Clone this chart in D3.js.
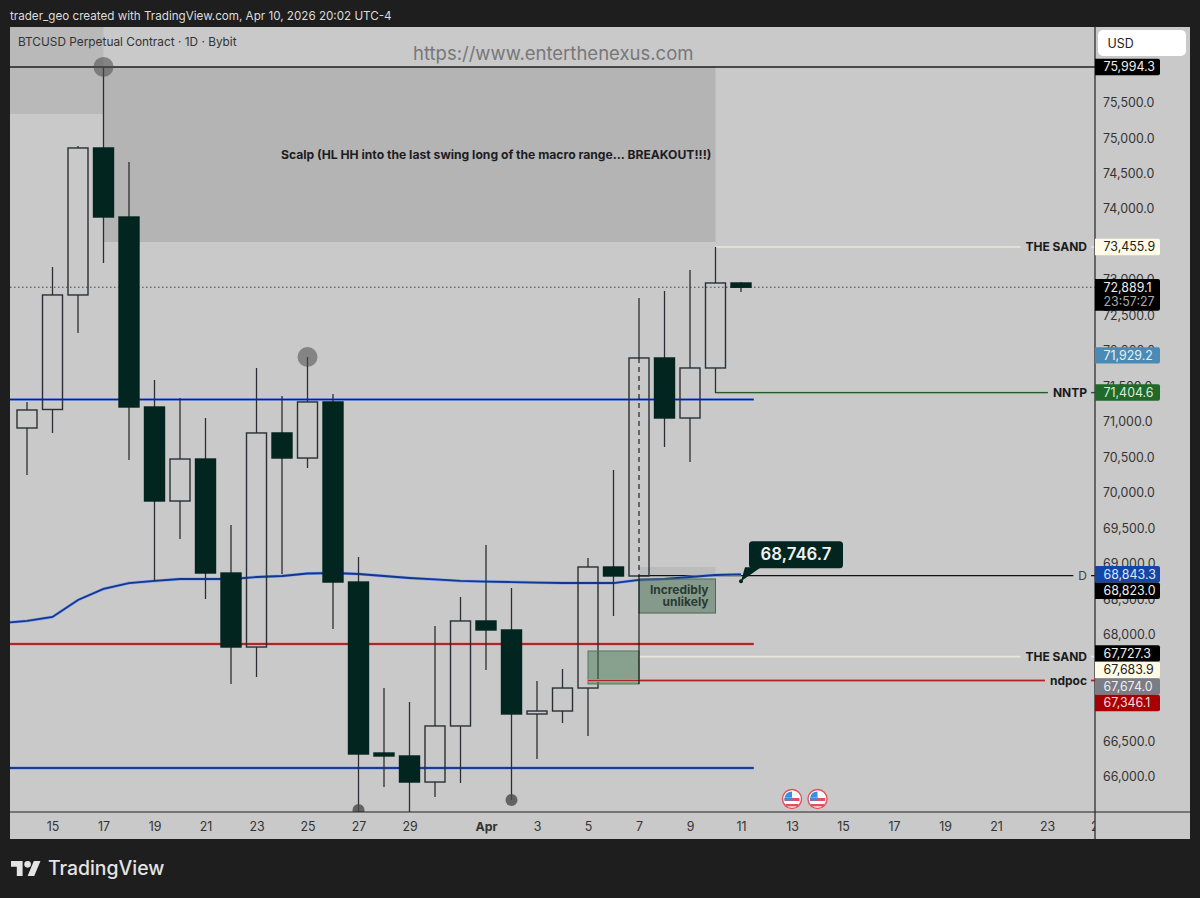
<!DOCTYPE html>
<html><head><meta charset='utf-8'>
<script src='https://d3js.org/d3.v7.min.js'></script>
<style>
html,body{margin:0;padding:0;background:#1e1e1e;}
svg{display:block;}
text{font-family:Inter,'Liberation Sans',sans-serif;}
</style></head><body>
<svg id='chart' width='1200' height='898'></svg>
<script>
// candles
const days=['2026-03-14','2026-03-15','2026-03-16','2026-03-17','2026-03-18','2026-03-19','2026-03-20','2026-03-21','2026-03-22','2026-03-23','2026-03-24','2026-03-25','2026-03-26','2026-03-27','2026-03-28','2026-03-29','2026-03-30','2026-03-31','2026-04-01','2026-04-02','2026-04-03','2026-04-04','2026-04-05','2026-04-06','2026-04-07','2026-04-08','2026-04-09','2026-04-10','2026-04-11'];
const opens=[70905,71166,72780,74852,73879,71201,69876,70468,68861,67818,70835,70482,71272,68734,66324,66282,65915,66705,68185,68058,66874,66916,67240,68946,68819,71892,71046,71751,72949];
const highs=[71272,73174,74880,75994.3,74654,71582,71328,71046,69538,71751,71356,71906,71384,69087,67240,67043,68114,68523,69256,68650,67339,67508,69073,70313,72737,72836,73132,73455.9,72963];
const lows=[70243,70835,72244,73231,70454,68749,69341,68495,67297,67395,68847,70341,68072,65493,65845,65380,65704,65901,67494,65662,66240,66747,66564,68255,68810,70637,70426,71398,72822];
const closes=[71159,72780,74852,73879,71201,69876,70468,68861,67818,70835,70482,71272,68734,66310,66282,65915,66705,68185,68058,66874,66916,67240,68946,68819,71892,71046,71751,72949,72889.1];

// moving average, first point sits left of the pane
const maDays=['2026-03-13'].concat(days);
const maValues=[68157,68185,68241,68481,68636,68720,68749,68777,68777,68777,68805,68819,68854,68861,68847,68819,68791,68770,68749,68741,68734,68727,68720,68720,68720,68763,68777,68805,68833,68843.3];

// 67,000 / 67,500 / 73,500 are fully covered by tags in the reference, so left out
const priceTicks=[66000,66500,68000,68500,69000,69500,70000,70500,71000,71500,72000,72500,73000,74000,74500,75000,75500];
const dateTicks=['2026-03-15','2026-03-17','2026-03-19','2026-03-21','2026-03-23','2026-03-25','2026-03-27','2026-03-29','2026-04-01','2026-04-03','2026-04-05','2026-04-07','2026-04-09','2026-04-11','2026-04-13','2026-04-15','2026-04-17','2026-04-19','2026-04-21','2026-04-23','2026-04-25'];

const tagValues=[75994.3,73455.9,72889.1,71929.2,71404.6,68843.3,68823.0,67727.3,67683.9,67674.0,67346.1];

const blueHigh=71307, redMid=67860, blueLow=66113, topLine=75994.3;
const sandHigh=73455.9, nntp=71404.6, dLevel=68823.0, sandLow=67683.9, ndpoc=67346.1;
const calloutPrice=68746.7;
const markerDays=['2026-03-17','2026-03-25','2026-03-27','2026-04-02'];
const markerPrices=[75994.3,71906,65521,65662];
const flagDays=['2026-04-13','2026-04-14'];

const margin={top:27,right:105,bottom:86,left:10},W=1200,H=898;
const paneR=W-margin.right, paneB=H-margin.bottom, axisB=839, outerR=1190;
const BG='#c9c9c9', DARK='#02261f', INK='#2b2f33';

const date=s=>new Date(s.length>10?s:s+'T00:00:00Z');
const x=d3.scaleUtc().domain([date('2026-03-14'),date('2026-04-25')]).range([27,1098]);
const y=d3.scaleLinear().domain([66000,75500]).range([776,102]);
const fmt=d3.format(',.1f');

const svg=d3.select('#chart');
svg.append('rect').attr('width',W).attr('height',H).attr('fill','#1e1e1e');
svg.append('rect').attr('x',margin.left).attr('y',margin.top)
   .attr('width',outerR-margin.left).attr('height',axisB-margin.top).attr('fill',BG);

svg.append('defs').append('clipPath').attr('id','pane').append('rect')
   .attr('x',margin.left).attr('y',margin.top)
   .attr('width',paneR-margin.left).attr('height',paneB-margin.top);
svg.select('defs').append('clipPath').attr('id','xaxis').append('rect')
   .attr('x',margin.left).attr('y',paneB)
   .attr('width',paneR-margin.left).attr('height',axisB-paneB);

const plot=svg.append('g').attr('clip-path','url(#pane)');

function box(d0,d1,p0,p1,fill,stroke){
  const r=plot.append('rect').attr('x',x(date(d0))).attr('width',x(date(d1))-x(date(d0)))
      .attr('y',y(p0)).attr('height',y(p1)-y(p0)).attr('fill',fill);
  if(stroke) r.attr('stroke',stroke).attr('stroke-width',1);
}
// grey zones
box('2026-03-13','2026-03-17',76557,75331,'#b9b9ba');
box('2026-03-17','2026-04-10',75994.3,73527,'#b4b4b5');

function level(d0,d1,p,core,halo,w){
  const l=plot.append('g');
  [[halo,w+1.4],[core,w]].forEach(s=>{ if(!s[0]) return;
    l.append('line').attr('x1',x(date(d0))).attr('x2',x(date(d1)))
     .attr('y1',y(p)).attr('y2',y(p)).attr('stroke',s[0]).attr('stroke-width',s[1]);});
}
level('2026-03-13','2026-04-25',topLine,'#1f1f1f',null,1.4);
plot.append('line').attr('x1',margin.left).attr('x2',paneR).attr('y1',y(closes[closes.length-1]))
    .attr('y2',y(closes[closes.length-1])).attr('stroke','#444').attr('stroke-width',1).attr('stroke-dasharray','1.5,2.5');

level('2026-04-10','2026-04-25',sandHigh,'#e9e7d9',null,1.6);
level('2026-04-10','2026-04-25',nntp,'#2a5a2a','#a5c8a0',1.2);
level('2026-04-07','2026-04-25',dLevel,'#111',null,1.2);
level('2026-04-07','2026-04-25',sandLow,'#e9e7d9',null,1.8);

box('2026-04-07','2026-04-10',68946,68833,'#bcbcbd');

const mid='2026-04-11T12:00:00Z';
level('2026-03-13',mid,blueHigh,'#0a2478','#86a6ea',1.6);
level('2026-03-13',mid,redMid,'#8c0a0a','#ee8a8a',1.6);
level('2026-03-13',mid,blueLow,'#1c3c94','#7f9fe8',1.8);

const maLine=d3.line().x((d,i)=>x(date(maDays[i]))).y(d=>y(d));
plot.append('path').datum(maValues).attr('d',maLine).attr('fill','none')
    .attr('stroke','#86a6ea').attr('stroke-width',3);
plot.append('path').datum(maValues).attr('d',maLine).attr('fill','none')
    .attr('stroke','#14368f').attr('stroke-width',1.8);

// candles: up bodies stay hollow so the lines show through
const candles=days.map((d,i)=>({d:date(d),o:opens[i],h:highs[i],l:lows[i],c:closes[i]}));
const cg=plot.append('g').selectAll('g').data(candles).join('g');
cg.append('line').attr('x1',d=>x(d.d)).attr('x2',d=>x(d.d))
  .attr('y1',d=>y(d.h)).attr('y2',d=>y(Math.max(d.o,d.c)))
  .attr('stroke',INK).attr('stroke-width',1.3);
cg.append('line').attr('x1',d=>x(d.d)).attr('x2',d=>x(d.d))
  .attr('y1',d=>y(Math.min(d.o,d.c))).attr('y2',d=>y(d.l))
  .attr('stroke',INK).attr('stroke-width',1.3);
cg.append('rect').attr('x',d=>x(d.d)-10).attr('width',20)
  .attr('y',d=>y(Math.max(d.o,d.c))).attr('height',d=>Math.abs(y(d.o)-y(d.c)))
  .attr('fill',d=>d.c<d.o?DARK:'none')
  .attr('stroke',d=>d.c<d.o?DARK:INK).attr('stroke-width',1.4);

// green boxes and the long drop line at Apr 7
box('2026-04-07','2026-04-10',68777,68297,'rgba(66,108,78,.5)','#4a6a54');
box('2026-04-05','2026-04-07',67762,67297,'rgba(72,122,84,.5)','#4f7a5c');
level('2026-04-05','2026-04-25',ndpoc,'#b0222a','#ec9a9a',1.6);

const a7=date('2026-04-07');
plot.append('line').attr('x1',x(a7)).attr('x2',x(a7)).attr('y1',y(opens[24])).attr('y2',y(67297))
    .attr('stroke','#111').attr('stroke-width',1.1);
plot.append('line').attr('x1',x(a7)).attr('x2',x(a7)).attr('y1',y(closes[24])).attr('y2',y(opens[24]))
    .attr('stroke','#111').attr('stroke-width',1.1).attr('stroke-dasharray','5,4');

plot.append('text').attr('x',x(date('2026-04-10'))-7).attr('y',y(68777)+15).attr('text-anchor','end')
    .attr('font-size',12).attr('font-weight',700).attr('fill','#2a3a33')
    .selectAll('tspan').data(['Incredibly','unlikely']).join('tspan')
    .attr('x',x(date('2026-04-10'))-7).attr('dy',(d,i)=>i?12:0).text(d=>d);

// swing markers
plot.append('g').selectAll('circle').data(markerDays).join('circle')
    .attr('cx',d=>x(date(d))).attr('cy',(d,i)=>y(markerPrices[i]))
    .attr('r',(d,i)=>i<2?10:6).attr('fill','#4a4a4a').attr('opacity',(d,i)=>i<2?.55:.8);

// economic event flags
const flags=plot.append('g').selectAll('g').data(flagDays).join('g')
    .attr('transform',d=>`translate(${x(date(d))},${paneB-13})`);
flags.append('circle').attr('r',9.5).attr('fill','#fff').attr('stroke','#e2505c').attr('stroke-width',1.4);
flags.append('rect').attr('x',-7.5).attr('y',-1).attr('width',15).attr('height',3).attr('fill','#e2505c');
flags.append('rect').attr('x',-6.5).attr('y',5).attr('width',13).attr('height',2.4).attr('fill','#e2505c');
flags.append('path').attr('d','M-7.5,-1.5 A8,8 0 0 1 0,-7.5 L0,-1.5 Z').attr('fill','#3f8be0');
flags.append('rect').attr('x',-7.5).attr('y',-1.5).attr('width',8).attr('height',3).attr('fill','#3f8be0');

// zone text and watermark
svg.append('text').attr('x',281).attr('y',159).attr('font-size',12.15).attr('font-weight',700).attr('fill','#1d1d1f')
   .text('Scalp (HL HH into the last swing long of the macro range... BREAKOUT!!!)');
svg.append('text').attr('x',413).attr('y',60).attr('font-size',18.5).attr('fill','#77777a')
   .text('https://www.enterthenexus.com');
svg.append('text').attr('x',18).attr('y',46).attr('font-size',11.85).attr('fill','#333')
   .text('BTCUSD Perpetual Contract · 1D · Bybit');
svg.append('text').attr('x',10).attr('y',20).attr('font-size',11.65).attr('fill','#dcdcdc')
   .text('trader_geo created with TradingView.com, Apr 10, 2026 20:02 UTC-4');

// callout
const cx=x(date('2026-04-11')), cy=y(calloutPrice);
const call=svg.append('g');
call.append('rect').attr('x',cx+8).attr('y',cy-40).attr('width',94).attr('height',27).attr('rx',3.5).attr('fill',DARK);
call.append('path').attr('fill',DARK)
    .attr('d',`M${cx},${cy} L${cx+4},${cy-14} L${cx+20},${cy-14} Z`);
call.append('circle').attr('cx',cx).attr('cy',cy).attr('r',2).attr('fill',DARK);
call.append('text').attr('x',cx+55).attr('y',cy-21).attr('text-anchor','middle')
    .attr('font-size',16.8).attr('font-weight',600).attr('fill','#f2f2f2').text(fmt(calloutPrice));

// level labels sit on a patch of background
const labels=[[sandHigh,'THE SAND',700],[nntp,'NNTP',700],[dLevel,'D',400],[sandLow,'THE SAND',700],[ndpoc,'ndpoc',700]];
labels.forEach(l=>{
  const g=svg.append('g');
  const t=g.append('text').attr('x',1087).attr('y',y(l[0])+4.4).attr('text-anchor','end')
     .attr('font-size',12).attr('font-weight',l[2]).attr('fill',l[2]==700?'#1a1a1c':'#444').text(l[1]);
  const w=t.node().getComputedTextLength();
  g.insert('rect','text').attr('x',1087-w-5).attr('y',y(l[0])-4).attr('width',w+9).attr('height',8).attr('fill',BG);
});

// axes
const yAxis=d3.axisRight(y).tickValues(priceTicks).tickSize(0).tickPadding(8).tickFormat(fmt);
const ya=svg.append('g').attr('transform',`translate(${paneR},0.6)`).call(yAxis);
ya.select('.domain').remove();
ya.selectAll('text').attr('font-size',12.4).attr('fill','#333').attr('font-family','Inter');

const dateSet=dateTicks.map(date);
const xAxis=d3.axisBottom(x).tickValues(dateSet).tickSize(0).tickPadding(10)
    .tickFormat(d=>d.getUTCDate()==1?'Apr':d.getUTCDate());
const xa=svg.append('g').attr('clip-path','url(#xaxis)').append('g').attr('transform',`translate(0,${paneB})`).call(xAxis);
xa.select('.domain').remove();
xa.selectAll('text').attr('font-size',12.4).attr('fill','#333').attr('font-family','Inter')
  .attr('font-weight',d=>d.getUTCDate()==1?700:400);

svg.append('line').attr('x1',margin.left).attr('x2',outerR).attr('y1',paneB).attr('y2',paneB).attr('stroke','#222').attr('stroke-width',1.2);
svg.append('line').attr('x1',paneR).attr('x2',paneR).attr('y1',margin.top).attr('y2',axisB).attr('stroke','#222').attr('stroke-width',1.2);

// USD button
svg.append('rect').attr('x',1098).attr('y',30).attr('width',88).attr('height',26).attr('rx',5).attr('fill','#fff');
svg.append('text').attr('x',1107.5).attr('y',47.5).attr('font-size',12.4).attr('fill','#222').text('USD');

// price tags, pushed down when they collide
const tagFill=['#000','#fffbe6','#000','#4a8bb5','#1f6a2a','#1446a8','#000','#000','#fffbe6','#7a7c86','#a80000'];
const tagText=['#eee','#222','#eee','#e6f0f6','#d6eed6','#dfe7fa','#eee','#eee','#222','#eee','#fbdcdc'];
let last=-99;
const tags=svg.append('g');
tagValues.forEach((v,i)=>{
  const yy=Math.max(y(v),last+16.5); last=yy;
  const tall=i==2;
  tags.append('path').attr('fill',tagFill[i])
      .attr('d',`M${paneR},${yy-8.2} H1158 q2,0 2,2 V${yy+(tall?21.5:6.2)} q0,2 -2,2 H${paneR} Z`);
  tags.append('text').attr('x',1103.5).attr('y',yy+4.4).attr('font-size',12.4).attr('fill',tagText[i]).text(fmt(v));
  if(tall){ tags.append('text').attr('x',1103.5).attr('y',yy+18.4).attr('font-size',12.4).attr('fill','#aaa').text('23:57:27'); last=yy+14; }
});

// footer logo
const logo=svg.append('g').attr('transform','translate(11,857.7) scale(.83)').attr('fill','#e4e4e4');
logo.append('path').attr('d','M14 22H7V11H0V4h14v18zM28 22h-8l7.5-18h8L28 22z');
logo.append('circle').attr('cx',20).attr('cy',8).attr('r',4);
svg.append('text').attr('x',48).attr('y',875).attr('font-size',19.4).attr('font-weight',500).attr('fill','#e4e4e4').text('TradingView');
</script></body></html>
